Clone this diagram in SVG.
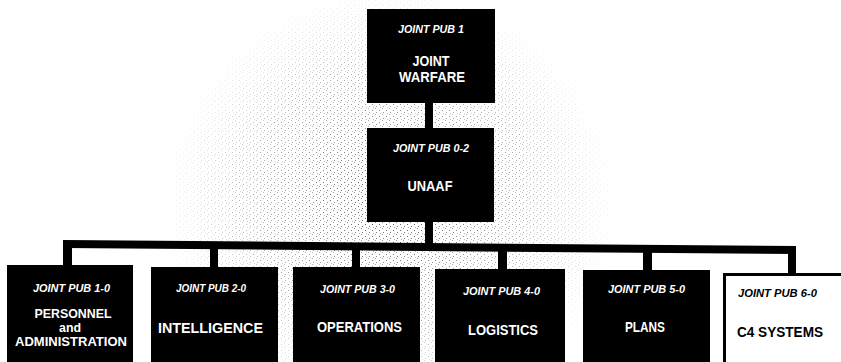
<svg xmlns="http://www.w3.org/2000/svg" width="841" height="362" viewBox="0 0 841 362">
  <style>
    .box { fill: #000; }
    .wbox { fill: #fff; stroke: #000; stroke-width: 3; }
    .sub { font-family: "Liberation Sans", Arial, sans-serif; font-size: 10.5px; font-style: italic; font-weight: bold; fill: #fff; text-anchor: middle; }
    .main { font-family: "Liberation Sans", Arial, sans-serif; font-size: 14px; font-weight: bold; fill: #fff; text-anchor: middle; }
    .tight { font-size: 12px; }
    .dark { fill: #000; }
    .conn { fill: #000; stroke: none; }
  </style>
  <defs>
    <pattern id="stip" width="7" height="6" patternUnits="userSpaceOnUse">
      <rect x="1" y="2" width="1" height="1" fill="#444"/>
      <rect x="4" y="0" width="1" height="1" fill="#777"/>
      <rect x="5" y="4" width="1" height="1" fill="#555"/>
      <rect x="2" y="5" width="1" height="1" fill="#999"/>
    </pattern>
    <radialGradient id="fade" cx="0.5" cy="0.55" r="0.5">
      <stop offset="0" stop-color="#fff" stop-opacity="0.9"/>
      <stop offset="0.6" stop-color="#fff" stop-opacity="0.45"/>
      <stop offset="1" stop-color="#fff" stop-opacity="0"/>
    </radialGradient>
    <mask id="m">
      <rect x="160" y="-40" width="460" height="440" fill="url(#fade)"/>
    </mask>
  </defs>
  <rect width="841" height="362" fill="#fff"/>
  <!-- faint scan stipple -->
  <rect x="160" y="-40" width="460" height="440" fill="url(#stip)" mask="url(#m)"/>

  <g id="connectors">
    <rect class="conn" x="425" y="100" width="8" height="30"/>
    <rect class="conn" x="425" y="220" width="8" height="26"/>
    <polygon class="conn" points="63,240 796,246 796,254 63,248"/>
    <rect class="conn" x="63" y="244" width="9" height="23"/>
    <rect class="conn" x="210" y="245" width="8" height="24"/>
    <rect class="conn" x="352" y="246" width="8" height="23"/>
    <rect class="conn" x="498" y="247" width="9" height="24"/>
    <rect class="conn" x="643" y="248" width="9" height="24"/>
    <rect class="conn" x="788" y="248" width="8" height="26"/>
  </g>

  <g id="jp1">
    <rect class="box" x="367" y="9" width="128" height="94"/>
    <text class="sub" x="431" y="33" textLength="66" lengthAdjust="spacingAndGlyphs">JOINT PUB 1</text>
    <text class="main" x="431" y="66" textLength="37" lengthAdjust="spacingAndGlyphs">JOINT</text>
    <text class="main" x="432" y="82" textLength="66" lengthAdjust="spacingAndGlyphs">WARFARE</text>
  </g>

  <g id="jp0-2">
    <rect class="box" x="367" y="128" width="127" height="94"/>
    <text class="sub" x="431" y="152" textLength="76" lengthAdjust="spacingAndGlyphs">JOINT PUB 0-2</text>
    <text class="main" x="430" y="191" textLength="45" lengthAdjust="spacingAndGlyphs">UNAAF</text>
  </g>

  <g id="jp1-0">
    <rect class="box" x="7" y="265" width="126" height="100"/>
    <text class="sub" x="71.5" y="292" textLength="77" lengthAdjust="spacingAndGlyphs">JOINT PUB 1-0</text>
    <text class="main tight" x="73" y="318" textLength="77" lengthAdjust="spacingAndGlyphs">PERSONNEL</text>
    <text class="main tight" x="70" y="332" textLength="22" lengthAdjust="spacingAndGlyphs">and</text>
    <text class="main tight" x="71" y="346" textLength="112" lengthAdjust="spacingAndGlyphs">ADMINISTRATION</text>
  </g>

  <g id="jp2-0">
    <rect class="box" x="151" y="267" width="127" height="100"/>
    <text class="sub" x="211" y="292" textLength="70" lengthAdjust="spacingAndGlyphs">JOINT PUB 2-0</text>
    <text class="main" x="210.5" y="333" textLength="105" lengthAdjust="spacingAndGlyphs">INTELLIGENCE</text>
  </g>

  <g id="jp3-0">
    <rect class="box" x="293" y="267" width="127" height="100"/>
    <text class="sub" x="357.5" y="293" textLength="75" lengthAdjust="spacingAndGlyphs">JOINT PUB 3-0</text>
    <text class="main" x="359.5" y="332" textLength="85" lengthAdjust="spacingAndGlyphs">OPERATIONS</text>
  </g>

  <g id="jp4-0">
    <rect class="box" x="435" y="269" width="130" height="100"/>
    <text class="sub" x="501.5" y="295" textLength="77" lengthAdjust="spacingAndGlyphs">JOINT PUB 4-0</text>
    <text class="main" x="503" y="335" textLength="70" lengthAdjust="spacingAndGlyphs">LOGISTICS</text>
  </g>

  <g id="jp5-0">
    <rect class="box" x="583" y="270" width="127" height="100"/>
    <text class="sub" x="646.5" y="293" textLength="77" lengthAdjust="spacingAndGlyphs">JOINT PUB 5-0</text>
    <text class="main" x="645" y="332" textLength="40" lengthAdjust="spacingAndGlyphs">PLANS</text>
  </g>

  <g id="jp6-0">
    <rect class="wbox" x="724.5" y="274.5" width="130" height="100"/>
    <text class="sub dark" x="777.5" y="297" textLength="79" lengthAdjust="spacingAndGlyphs">JOINT PUB 6-0</text>
    <text class="main dark" x="780" y="337" textLength="86" lengthAdjust="spacingAndGlyphs">C4 SYSTEMS</text>
  </g>
</svg>
